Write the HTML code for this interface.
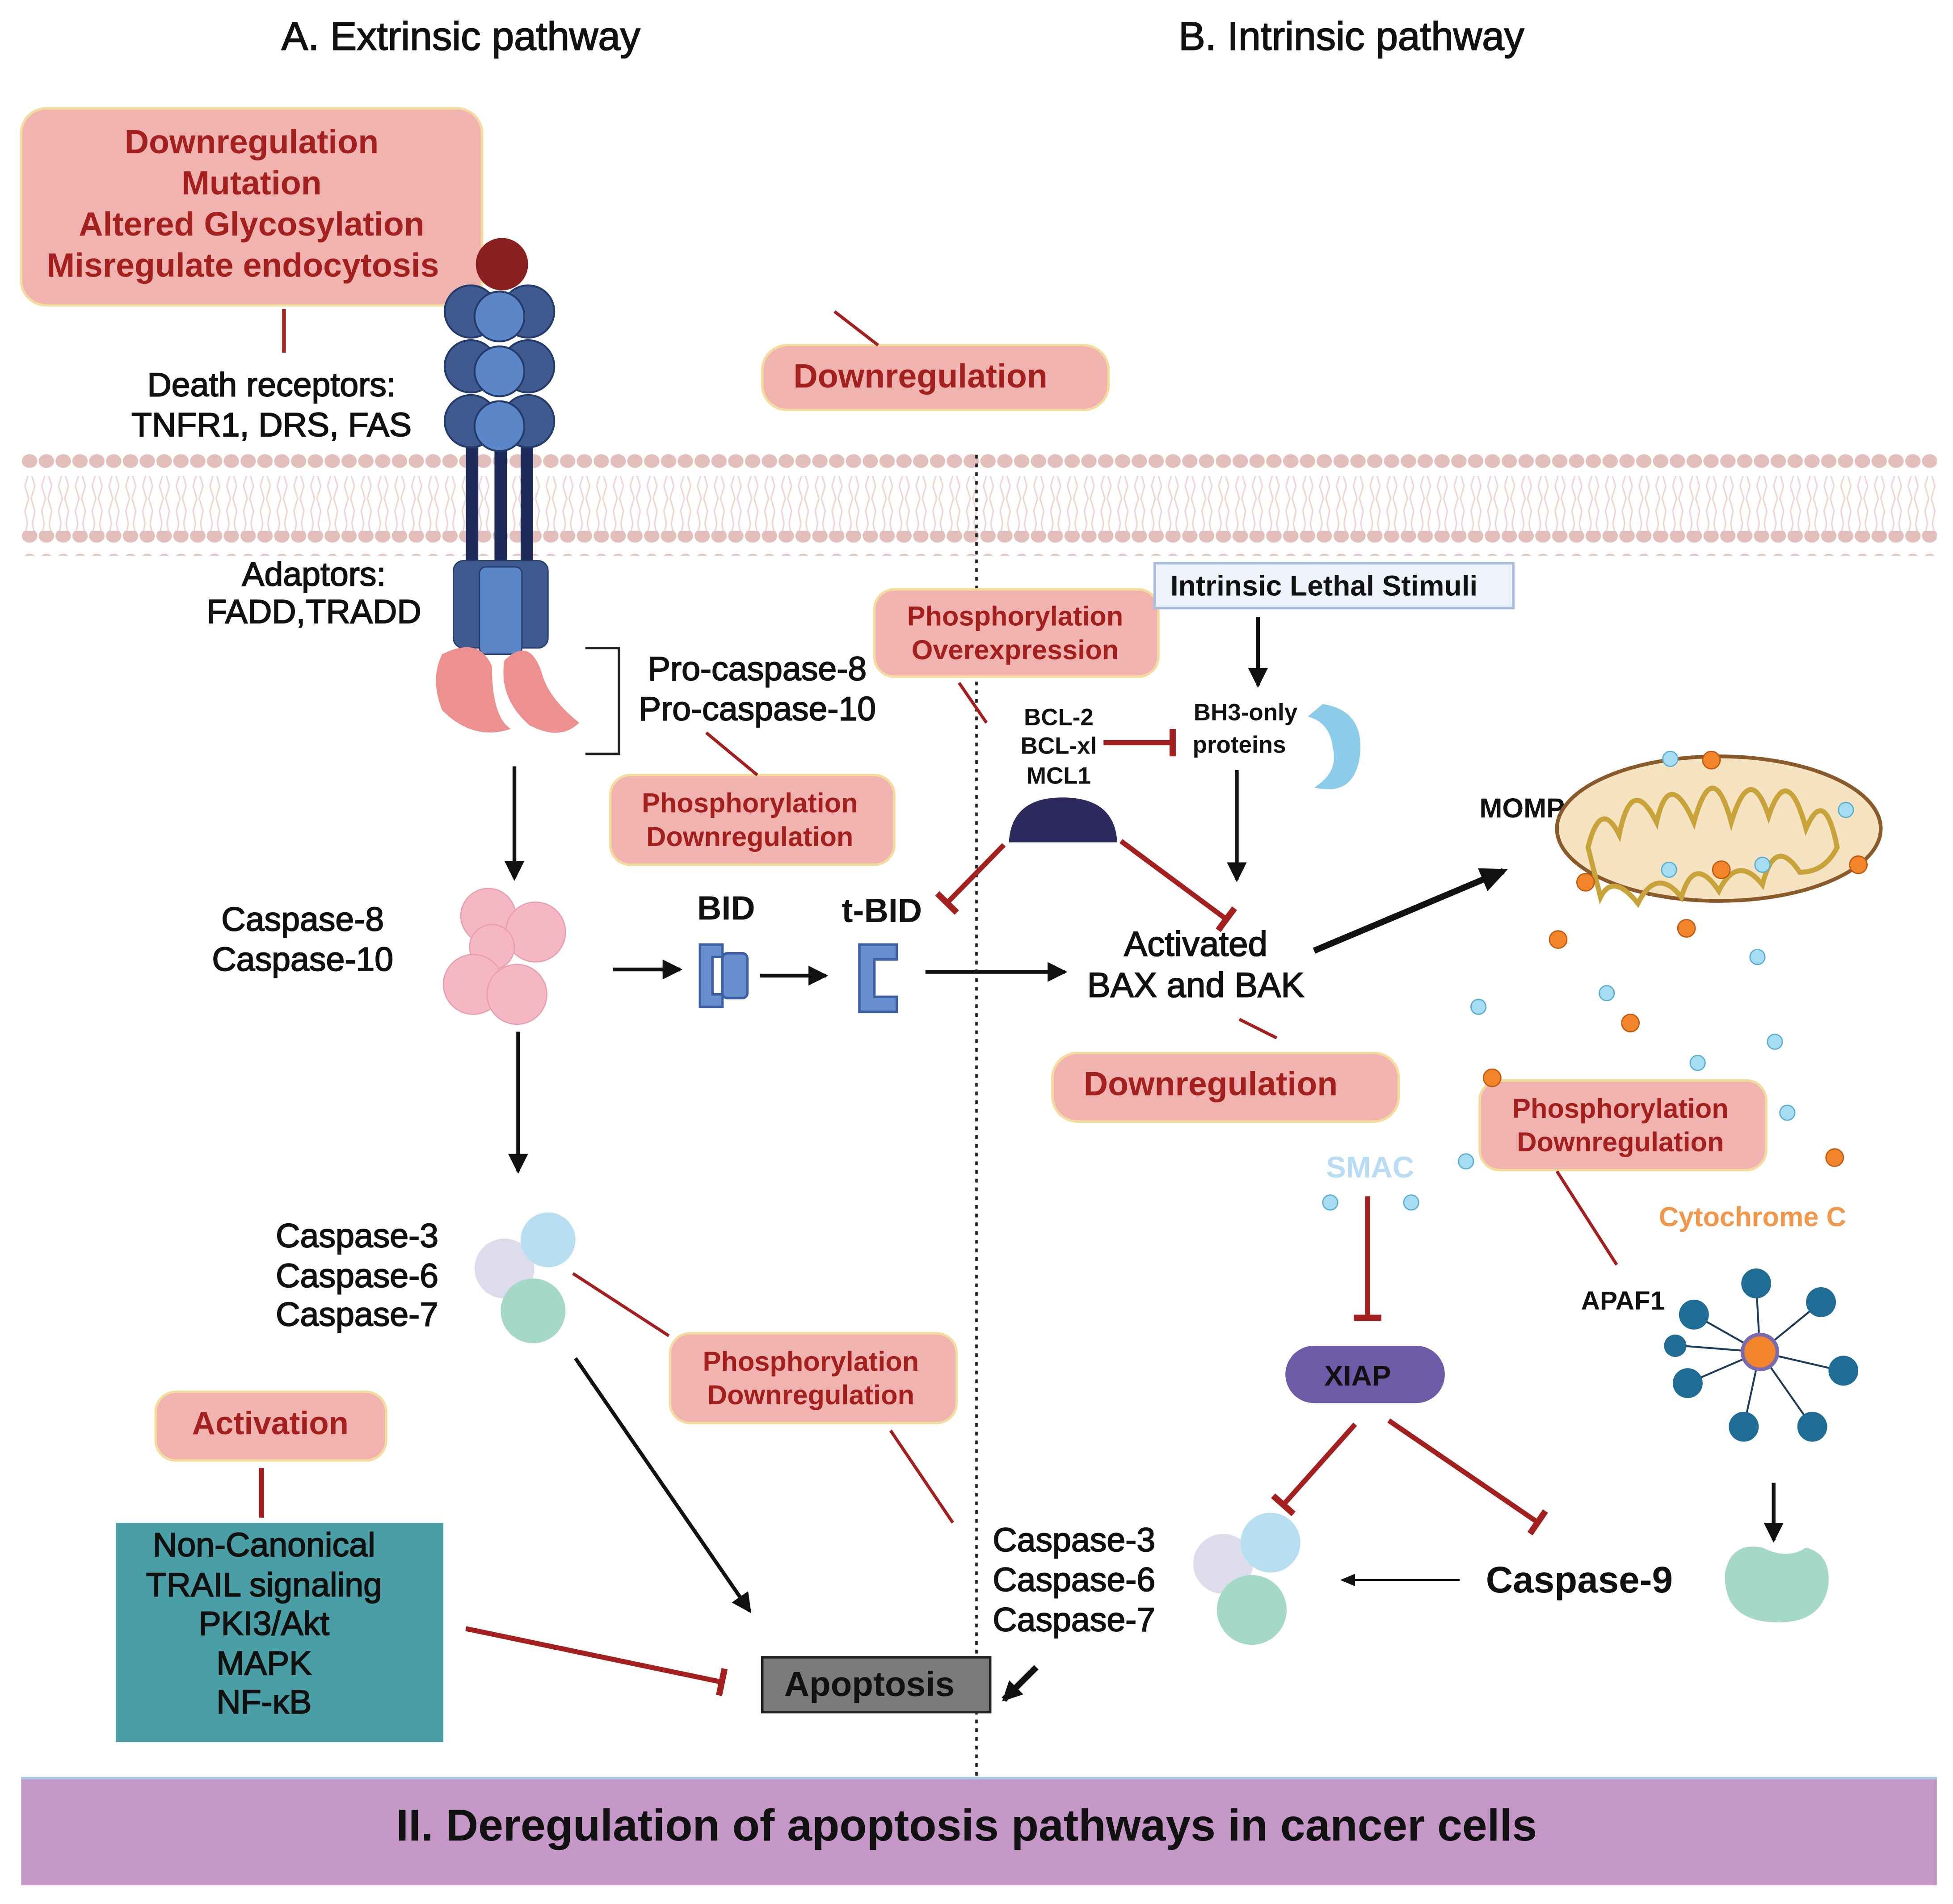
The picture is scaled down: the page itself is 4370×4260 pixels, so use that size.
<!DOCTYPE html>
<html><head><meta charset="utf-8"><style>
html,body{margin:0;padding:0;background:#fff;}
svg{display:block;}
text{font-family:"Liberation Sans",sans-serif;}
.r{fill:#a3201f;font-weight:bold;}
.b{fill:#111;}
.m{stroke:#111;stroke-width:0.7;}
</style></head><body>
<svg width="4370" height="4260" viewBox="0 0 1568 1528" preserveAspectRatio="none" xmlns="http://www.w3.org/2000/svg">
<defs>
<pattern id="head" x="17" y="0" width="13.5" height="20" patternUnits="userSpaceOnUse">
<ellipse cx="6.75" cy="10" rx="6.2" ry="5.5" fill="#e2bfbb"/></pattern>
<pattern id="tail" x="17" y="0" width="13.5" height="60" patternUnits="userSpaceOnUse">
<path d="M5 0 L3 10 L6 20 L3 30 M9 0 L11 10 L8 20 L11 30 M5 60 L3 50 L6 40 L3 30 M9 60 L11 50 L8 40 L11 30" stroke="#f0d6d3" stroke-width="1.2" fill="none"/></pattern>
<marker id="ah" markerWidth="20" markerHeight="20" refX="14" refY="8" orient="auto" markerUnits="userSpaceOnUse"><path d="M0,0 L16,8 L0,16 z" fill="#111"/></marker>
<marker id="ahs" markerWidth="14" markerHeight="12" refX="10" refY="5" orient="auto" markerUnits="userSpaceOnUse"><path d="M0,0 L12,5 L0,10 z" fill="#111"/></marker>
<marker id="ahb" markerWidth="26" markerHeight="24" refX="18" refY="10" orient="auto" markerUnits="userSpaceOnUse"><path d="M0,0 L22,10 L0,20 z" fill="#111"/></marker>
<marker id="bar" markerWidth="6" markerHeight="22" refX="3" refY="11" orient="auto" markerUnits="userSpaceOnUse"><rect x="0" y="0" width="5" height="22" fill="#a3201f"/></marker>
</defs>
<rect width="1568" height="1528" fill="#fff"/>
<rect x="17" y="362" width="1538" height="20" fill="url(#head)"/>
<rect x="17" y="382" width="1538" height="44" fill="url(#tail)"/>
<rect x="17" y="426" width="1538" height="20" fill="url(#head)"/>

<text x="370" y="40" font-size="32" text-anchor="middle" class="b m">A. Extrinsic pathway</text>
<text x="1085" y="40" font-size="32" text-anchor="middle" class="b m">B. Intrinsic pathway</text>

<line x1="784" y1="365" x2="784" y2="1425" stroke="#222" stroke-width="2" stroke-dasharray="3,4"/>

<rect x="17" y="87" width="370" height="158" rx="20" fill="#f0b3b0" stroke="#f3dc9e" stroke-width="2"/>
<g font-size="27" text-anchor="middle" class="r">
<text x="202" y="123">Downregulation</text>
<text x="202" y="156">Mutation</text>
<text x="202" y="189">Altered Glycosylation</text>
<text x="195" y="222">Misregulate endocytosis</text>
</g>
<line x1="228" y1="248" x2="228" y2="283" stroke="#a3201f" stroke-width="3"/>
<g font-size="27" text-anchor="middle" class="b m">
<text x="218" y="318">Death receptors:</text>
<text x="218" y="350">TNFR1, DRS, FAS</text>
<text x="252" y="470">Adaptors:</text>
<text x="252" y="500">FADD,TRADD</text>
<text x="608" y="546">Pro-caspase-8</text>
<text x="608" y="578">Pro-caspase-10</text>
<text x="243" y="747">Caspase-8</text>
<text x="243" y="779">Caspase-10</text>
</g>
<rect x="374" y="350" width="10" height="105" fill="#1d2a5a"/>
<rect x="397" y="350" width="10" height="105" fill="#1d2a5a"/>
<rect x="418" y="350" width="10" height="105" fill="#1d2a5a"/>
<g fill="#3f5a8f" stroke="#243a6a" stroke-width="1.5">
<circle cx="378" cy="250" r="21"/><circle cx="424" cy="250" r="21"/>
<circle cx="378" cy="294" r="21"/><circle cx="424" cy="294" r="21"/>
<circle cx="378" cy="338" r="21"/><circle cx="424" cy="338" r="21"/>
</g>
<g fill="#5b86c8" stroke="#243a6a" stroke-width="1.5">
<circle cx="401" cy="254" r="20"/><circle cx="401" cy="298" r="20"/><circle cx="401" cy="342" r="20"/>
</g>
<circle cx="403" cy="212" r="21" fill="#8b2020"/>
<rect x="364" y="450" width="76" height="70" rx="8" fill="#3f5a8f" stroke="#243a6a"/>
<rect x="385" y="455" width="34" height="70" rx="5" fill="#5b86c8" stroke="#243a6a"/>
<path d="M355 525 Q385 510 395 535 Q395 575 410 585 Q380 595 355 570 Q345 545 355 525Z" fill="#ec9190"/>
<path d="M405 530 Q425 510 435 540 Q440 560 465 580 Q450 595 425 582 Q400 560 405 530Z" fill="#ec9190"/>
<path d="M470 520 H497 V605 H470" fill="none" stroke="#222" stroke-width="2"/>

<g stroke="#111" stroke-width="3" marker-end="url(#ah)" fill="none">
<line x1="413" y1="615" x2="413" y2="705"/>
<line x1="416" y1="828" x2="416" y2="940"/>
<line x1="492" y1="778" x2="546" y2="778"/>
<line x1="610" y1="783" x2="663" y2="783"/>
<line x1="743" y1="780" x2="855" y2="780"/>
<line x1="1010" y1="495" x2="1010" y2="550"/>
<line x1="993" y1="618" x2="993" y2="706"/>
<line x1="462" y1="1090" x2="602" y2="1293"/>
<line x1="1424" y1="1190" x2="1424" y2="1236"/>
</g>
<line x1="1055" y1="763" x2="1207" y2="699" stroke="#111" stroke-width="5" marker-end="url(#ahb)"/>
<line x1="832" y1="1338" x2="806" y2="1364" stroke="#111" stroke-width="5" marker-end="url(#ah)"/>
<line x1="1172" y1="1268" x2="1078" y2="1268" stroke="#111" stroke-width="1.5" marker-end="url(#ahs)"/>

<g fill="#f4b7c3" stroke="#e7a0b0">
<circle cx="392" cy="735" r="22"/><circle cx="430" cy="748" r="24"/><circle cx="395" cy="760" r="18"/>
<circle cx="380" cy="790" r="24"/><circle cx="415" cy="798" r="24"/>
</g>
<text x="583" y="738" font-size="27" text-anchor="middle" class="b" font-weight="bold">BID</text>
<path d="M562 758 h18 v10 h-8 v30 h8 v10 h-18z" fill="#6a8fd0" stroke="#3d5fa5" stroke-width="2"/>
<rect x="580" y="765" width="20" height="36" rx="4" fill="#6a8fd0" stroke="#3d5fa5" stroke-width="2"/>
<text x="708" y="740" font-size="27" text-anchor="middle" class="b" font-weight="bold">t-BID</text>
<path d="M690 758 h30 v12 h-18 v30 h18 v12 h-30z" fill="#6a8fd0" stroke="#3d5fa5" stroke-width="2"/>

<g fill="#f0b3b0" stroke="#f3dc9e" stroke-width="2">
<rect x="612" y="277" width="278" height="52" rx="20"/>
<rect x="490" y="622" width="228" height="72" rx="16"/>
<rect x="702" y="473" width="228" height="70" rx="16"/>
<rect x="845" y="845" width="278" height="55" rx="20"/>
<rect x="1188" y="867" width="230" height="72" rx="16"/>
<rect x="538" y="1070" width="230" height="72" rx="16"/>
<rect x="125" y="1117" width="185" height="55" rx="16"/>
</g>
<g class="r" text-anchor="middle">
<text x="739" y="311" font-size="27">Downregulation</text>
<text x="602" y="652" font-size="22">Phosphorylation</text>
<text x="602" y="679" font-size="22">Downregulation</text>
<text x="815" y="502" font-size="22">Phosphorylation</text>
<text x="815" y="529" font-size="22">Overexpression</text>
<text x="972" y="879" font-size="27">Downregulation</text>
<text x="1301" y="897" font-size="22">Phosphorylation</text>
<text x="1301" y="924" font-size="22">Downregulation</text>
<text x="651" y="1100" font-size="22">Phosphorylation</text>
<text x="651" y="1127" font-size="22">Downregulation</text>
<text x="217" y="1151" font-size="26">Activation</text>
</g>
<g stroke="#a3201f" stroke-width="2.5">
<line x1="670" y1="250" x2="705" y2="277"/>
<line x1="567" y1="588" x2="608" y2="622"/>
<line x1="770" y1="548" x2="792" y2="580"/>
<line x1="995" y1="818" x2="1025" y2="833"/>
<line x1="1250" y1="940" x2="1298" y2="1015"/>
<line x1="460" y1="1022" x2="537" y2="1072"/>
<line x1="715" y1="1148" x2="765" y2="1222"/>
<line x1="210" y1="1178" x2="210" y2="1218" stroke-width="4"/>
</g>
<g stroke="#a3201f" stroke-width="4" marker-end="url(#bar)">
<line x1="886" y1="596" x2="942" y2="596"/>
<line x1="806" y1="678" x2="760" y2="725"/>
<line x1="900" y1="675" x2="985" y2="738"/>
<line x1="1098" y1="960" x2="1098" y2="1058"/>
<line x1="1088" y1="1143" x2="1030" y2="1208"/>
<line x1="1115" y1="1140" x2="1235" y2="1222"/>
<line x1="374" y1="1307" x2="580" y2="1350"/>
</g>

<rect x="927" y="452" width="288" height="36" fill="#eef3fb" stroke="#a8bde0" stroke-width="2"/>
<text x="1063" y="478" font-size="23" font-weight="bold" text-anchor="middle" class="b">Intrinsic Lethal Stimuli</text>
<g font-size="19" font-weight="bold" text-anchor="middle" class="b">
<text x="850" y="582">BCL-2</text><text x="850" y="605">BCL-xl</text><text x="850" y="629">MCL1</text>
<text x="1000" y="578">BH3-only</text><text x="995" y="604">proteins</text>
</g>
<path d="M1062 565 Q1095 570 1092 605 Q1088 640 1055 632 Q1075 620 1070 600 Q1068 580 1050 575Z" fill="#8dcbea"/>
<path d="M810 676 Q812 640 853 640 Q895 640 897 676Z" fill="#2e2a5e"/>
<text x="960" y="767" font-size="28" text-anchor="middle" class="b m">Activated</text>
<text x="960" y="800" font-size="28" text-anchor="middle" class="b m">BAX and BAK</text>
<text x="1222" y="656" font-size="22" font-weight="bold" text-anchor="middle" class="b">MOMP</text>
<ellipse cx="1380" cy="665" rx="130" ry="58" fill="#f6e3c2" stroke="#8a5a2a" stroke-width="3"/>
<path d="M1275 680 q10 -40 25 -10 q10 -50 30 -10 q10 -45 30 0 q15 -55 30 0 q15 -50 30 -5 q15 -45 30 10 q15 -35 25 15 q-10 20 -30 20 q-20 -30 -30 10 q-20 -25 -35 5 q-20 -30 -30 5 q-20 -25 -35 5 q-20 -25 -30 -5z" fill="none" stroke="#c8a33a" stroke-width="4"/>
<g fill="#f2842a" stroke="#c05a10">
<circle cx="1374" cy="610" r="7"/><circle cx="1273" cy="708" r="7"/><circle cx="1382" cy="698" r="7"/><circle cx="1492" cy="694" r="7"/>
<circle cx="1251" cy="754" r="7"/><circle cx="1354" cy="745" r="7"/><circle cx="1309" cy="821" r="7"/><circle cx="1198" cy="865" r="7"/><circle cx="1473" cy="929" r="7"/>
</g>
<g fill="#a6ddf2" stroke="#5aaed0">
<circle cx="1341" cy="609" r="6"/><circle cx="1482" cy="650" r="6"/><circle cx="1340" cy="698" r="6"/><circle cx="1415" cy="694" r="6"/>
<circle cx="1411" cy="768" r="6"/><circle cx="1187" cy="808" r="6"/><circle cx="1290" cy="797" r="6"/><circle cx="1425" cy="836" r="6"/>
<circle cx="1363" cy="853" r="6"/><circle cx="1435" cy="893" r="6"/><circle cx="1177" cy="932" r="6"/><circle cx="1068" cy="965" r="6"/><circle cx="1133" cy="965" r="6"/>
</g>
<text x="1100" y="945" font-size="24" font-weight="bold" text-anchor="middle" fill="#b8dcf3">SMAC</text>
<text x="1407" y="984" font-size="22" font-weight="bold" text-anchor="middle" fill="#f2964a">Cytochrome C</text>
<text x="1303" y="1051" font-size="21" font-weight="bold" text-anchor="middle" class="b">APAF1</text>
<g stroke="#1c3c5a" stroke-width="1.5">
<line x1="1413" y1="1085" x2="1360" y2="1055"/><line x1="1413" y1="1085" x2="1410" y2="1030"/><line x1="1413" y1="1085" x2="1462" y2="1045"/>
<line x1="1413" y1="1085" x2="1478" y2="1100"/><line x1="1413" y1="1085" x2="1455" y2="1145"/><line x1="1413" y1="1085" x2="1400" y2="1145"/>
<line x1="1413" y1="1085" x2="1355" y2="1110"/><line x1="1413" y1="1085" x2="1350" y2="1080"/>
</g>
<g fill="#1f6c95">
<circle cx="1360" cy="1055" r="12"/><circle cx="1410" cy="1030" r="12"/><circle cx="1462" cy="1045" r="12"/><circle cx="1480" cy="1100" r="12"/>
<circle cx="1455" cy="1145" r="12"/><circle cx="1400" cy="1145" r="12"/><circle cx="1355" cy="1110" r="12"/><circle cx="1345" cy="1080" r="9"/>
</g>
<circle cx="1413" cy="1085" r="14" fill="#f2842a" stroke="#7a6ab0" stroke-width="3"/>
<text x="1268" y="1278" font-size="30" font-weight="bold" text-anchor="middle" class="b">Caspase-9</text>
<rect x="1032" y="1080" width="128" height="46" rx="23" fill="#6e5ba8"/>
<text x="1090" y="1112" font-size="23" font-weight="bold" text-anchor="middle" class="b">XIAP</text>
<g><circle cx="405" cy="1018" r="24" fill="#dcdcec"/><circle cx="440" cy="995" r="22" fill="#b8def2"/><circle cx="428" cy="1052" r="26" fill="#a6d8c8"/></g>
<g><circle cx="982" cy="1255" r="24" fill="#dcdcec"/><circle cx="1020" cy="1238" r="24" fill="#b8def2"/><circle cx="1005" cy="1292" r="28" fill="#a6d8c8"/></g>
<path d="M1385 1262 q5 -25 30 -20 q20 10 35 0 q20 5 18 30 q-5 30 -40 30 q-45 0 -43 -40z" fill="#a6d8c8"/>
<g font-size="27" class="b m">
<text x="352" y="1001" text-anchor="end">Caspase-3</text>
<text x="352" y="1033" text-anchor="end">Caspase-6</text>
<text x="352" y="1064" text-anchor="end">Caspase-7</text>
<text x="797" y="1245">Caspase-3</text>
<text x="797" y="1277">Caspase-6</text>
<text x="797" y="1309">Caspase-7</text>
</g>
<rect x="93" y="1222" width="263" height="176" fill="#4a9fa6"/>
<g font-size="27" text-anchor="middle" fill="#111" class="m">
<text x="212" y="1249">Non-Canonical</text>
<text x="212" y="1281">TRAIL signaling</text>
<text x="212" y="1312">PKI3/Akt</text>
<text x="212" y="1344">MAPK</text>
<text x="212" y="1375">NF-κB</text>
</g>
<rect x="612" y="1330" width="183" height="44" fill="#7b7b7b" stroke="#222" stroke-width="2"/>
<text x="698" y="1361" font-size="28" font-weight="bold" text-anchor="middle" class="b">Apoptosis</text>
<rect x="17" y="1427" width="1538" height="86" fill="#c497c7"/>
<line x1="17" y1="1427" x2="1555" y2="1427" stroke="#a8c8e8" stroke-width="2"/>
<text x="776" y="1477" font-size="36" font-weight="bold" text-anchor="middle" class="b">II. Deregulation of apoptosis pathways in cancer cells</text>
</svg>
</body></html>
